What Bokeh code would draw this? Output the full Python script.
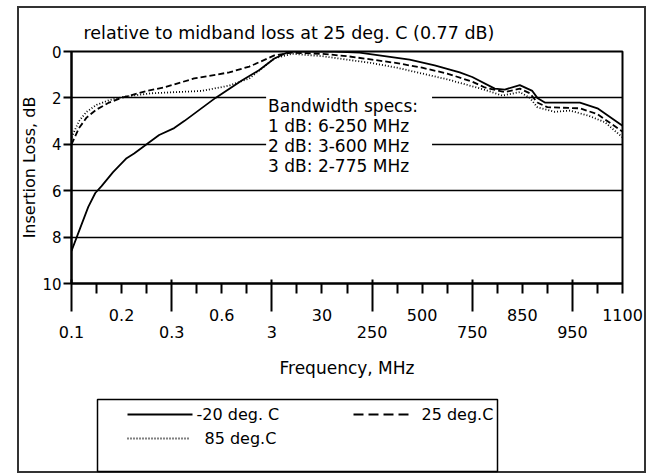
from bokeh.plotting import figure
from bokeh.layouts import column
from bokeh.models import Range1d, FixedTicker, Label, LinearAxis
from bokeh.core.properties import value
from bokeh.embed import file_html
from bokeh.resources import INLINE

# ---------------- data ----------------
title_text = "relative to midband loss at 25 deg. C (0.77 dB)"
x_label = "Frequency, MHz"
y_label = "Insertion Loss, dB"
spec_text = "Bandwidth specs:\n1 dB: 6-250 MHz\n2 dB: 3-600 MHz\n3 dB: 2-775 MHz"

# tick positions along the (non-uniform) frequency axis and their labels
x_tick_pos = [0, 2, 4, 6, 8, 10, 12, 14, 16, 18, 20, 22]
x_tick_labels = ["0.1", "0.2", "0.3", "0.6", "3", "30", "250", "500", "750", "850", "950", "1100"]
y_ticks = [0, 2, 4, 6, 8, 10]

series_names = ["-20 deg. C", "25 deg.C", "85 deg.C"]

# -20 deg C (axis position, loss dB)
pos_m20 = [0, 0.35, 0.67, 0.95, 1.2, 1.66, 2.2, 2.5, 3.0, 3.5, 4.1, 4.5, 5.75, 6.8, 7.5,
           8.1, 8.7, 9.5, 10.5, 11.5, 12.5, 13.5, 14.5, 15.5, 16.0, 16.9, 17.3, 17.9,
           18.4, 18.6, 18.9, 19.5, 20.3, 21.0, 22]
loss_m20 = [8.6, 7.6, 6.7, 6.1, 5.8, 5.2, 4.6, 4.4, 4.0, 3.6, 3.3, 3.0, 2.0, 1.25, 0.8,
            0.3, 0.0, 0.0, 0.0, 0.05, 0.2, 0.35, 0.6, 0.9, 1.1, 1.6, 1.64, 1.45,
            1.7, 2.0, 2.2, 2.2, 2.2, 2.45, 3.2]

# 25 deg C
pos_25 = [0, 0.3, 0.6, 1.0, 1.5, 2.0, 2.5, 3.0, 3.7, 4.9, 6.3, 7.1, 8.1, 8.8, 10, 11,
          12, 13, 14, 15, 16, 16.5, 17.3, 17.9, 18.3, 18.6, 19.0, 20.3, 21.0, 22]
loss_25 = [4.0, 3.3, 2.85, 2.5, 2.2, 2.0, 1.85, 1.7, 1.55, 1.16, 0.9, 0.65, 0.17, 0.05,
           0.1, 0.2, 0.35, 0.5, 0.7, 0.95, 1.3, 1.55, 1.75, 1.6, 1.8, 2.2, 2.4, 2.45, 2.7, 3.45]

# 85 deg C
pos_85 = [0, 0.3, 0.6, 1.0, 1.5, 2.1, 3.2, 4.2, 5.2, 6.3, 7.1, 8.1, 8.8, 10, 11, 12, 13,
          14, 15, 16, 16.5, 17.2, 17.9, 18.3, 18.6, 19.3, 19.9, 20.6, 21.3, 22]
loss_85 = [3.7, 3.0, 2.6, 2.3, 2.1, 1.95, 1.8, 1.75, 1.7, 1.47, 1.16, 0.3, 0.1, 0.2, 0.35,
           0.5, 0.7, 0.95, 1.2, 1.5, 1.65, 1.9, 1.75, 2.0, 2.4, 2.6, 2.55, 2.75, 3.05, 3.7]

# ---------------- main chart ----------------
FONT = "DejaVu Sans"
styles = [dict(line_color="black", line_width=1.8),
          dict(line_color="black", line_width=1.8, line_dash="6 3"),
          dict(line_color="black", line_width=1.8, line_dash="1 2")]
sample_dash = ["solid", "10 5", "1 2"]
BORDER = "#333333"

p = figure(width=629, height=384, x_range=Range1d(0, 22), y_range=Range1d(10, 0),
           output_backend="svg", toolbar_location=None,
           min_border_left=51, min_border_right=24, min_border_top=45, min_border_bottom=107)
p.background_fill_color = "white"
p.border_fill_alpha = 0
p.outline_line_color = "black"
p.outline_line_width = 2
p.styles = {"box-shadow": f"inset 2px 2px 0 {BORDER}, inset -2px 0 0 {BORDER}"}

p.title.text = title_text
p.title.align = "left"
p.title.offset = 12
p.title.standoff = 18
p.title.text_font = FONT
p.title.text_font_size = "17.5px"
p.title.text_font_style = "normal"
p.title.text_color = "black"

long_pos = x_tick_pos[0::2]
long_lab = x_tick_labels[0::2]
up_pos = x_tick_pos[1::2]
up_lab = x_tick_labels[1::2]
odd_pos = [i for i in range(0, 23) if i not in x_tick_pos]

# x axis A (next to frame): short ticks, upper row of labels
xa = p.xaxis[0]
xa.ticker = FixedTicker(ticks=up_pos, minor_ticks=odd_pos)
xa.major_label_overrides = {k: v for k, v in zip(up_pos, up_lab)}
xa.major_tick_out = 10
xa.major_tick_in = 0
xa.minor_tick_out = 10
xa.minor_tick_in = 0
xa.axis_line_width = 2
xa.major_tick_line_width = 2
xa.minor_tick_line_width = 2
xa.major_label_standoff = 15
xa.major_label_text_font = FONT
xa.major_label_text_font_size = "16px"
xa.major_label_text_color = "black"

# x axis B (below A): long ticks reaching up to the frame, lower row of labels
xb = LinearAxis(ticker=FixedTicker(ticks=long_pos, minor_ticks=[]))
xb.major_label_overrides = {k: v for k, v in zip(long_pos, long_lab)}
xb.axis_line_color = None
xb.major_tick_in = 44
xb.major_tick_out = -12
xb.minor_tick_in = 0
xb.minor_tick_out = 0
xb.major_tick_line_width = 2
xb.major_label_standoff = 2
xb.major_label_text_font = FONT
xb.major_label_text_font_size = "16px"
xb.major_label_text_color = "black"
xb.axis_label = x_label
xb.axis_label_text_font = FONT
xb.axis_label_text_font_size = "17px"
xb.axis_label_text_font_style = "normal"
xb.axis_label_text_color = "black"
xb.axis_label_standoff = 17
p.add_layout(xb, "below")

ya = p.yaxis[0]
ya.ticker = FixedTicker(ticks=y_ticks, minor_ticks=[])
ya.major_tick_out = 8
ya.major_tick_in = 0
ya.axis_line_width = 2
ya.major_tick_line_width = 2
ya.major_label_standoff = 2
ya.major_label_text_font = FONT
ya.major_label_text_font_size = "15px"
ya.major_label_text_color = "black"
ya.axis_label = y_label
ya.axis_label_text_font = FONT
ya.axis_label_text_font_size = "16px"
ya.axis_label_text_font_style = "normal"
ya.axis_label_text_color = "black"
ya.axis_label_standoff = 0

p.xgrid.visible = False
p.ygrid.ticker = FixedTicker(ticks=y_ticks[1:-1])
p.ygrid.grid_line_color = "black"
p.ygrid.grid_line_width = 1.5
p.ygrid.grid_line_alpha = 1

p.line(pos_m20, loss_m20, **styles[0])
p.line(pos_25, loss_25, **styles[1])
p.line(pos_85, loss_85, **styles[2])

p.add_layout(Label(x=7.77, y=1.75, text=spec_text, text_align="left", text_baseline="top",
                   text_font=FONT, text_font_size="17px", text_color="black",
                   text_line_height=1.0, background_fill_color="white",
                   padding=(2, 14, 4, 6)))

# ---------------- legend strip (pixel coordinates) ----------------
LW, LH = 629, 83
pl = figure(width=LW, height=LH, x_range=Range1d(0, LW), y_range=Range1d(0, LH),
            output_backend="svg", toolbar_location=None, title=None,
            x_axis_location=None, y_axis_location=None,
            min_border_left=0, min_border_right=0, min_border_top=0, min_border_bottom=0)
pl.grid.visible = False
pl.outline_line_color = None
pl.background_fill_alpha = 0
pl.border_fill_alpha = 0
pl.styles = {"box-shadow": f"inset 2px -2px 0 {BORDER}, inset -2px 0 0 {BORDER}"}

for f in (p, pl):
    if "frame_align" in f.properties():
        f.frame_align = False

# legend box and entries (layout positions, px)
box_l, box_r, box_b, box_t = 80, 480, 2, 74
sample_x0 = [110, 336, 110]
sample_x1 = [175, 396, 173]
entry_y = [59, 59, 35]
text_x = [179, 404, 187]

pl.quad(left=[box_l], right=[box_r], bottom=[box_b], top=[box_t],
        fill_color="white", line_color="black", line_width=1.5)
for i in range(3):
    pl.segment(x0=[sample_x0[i]], y0=[entry_y[i]], x1=[sample_x1[i]], y1=[entry_y[i]],
               line_color="black", line_width=2.2, line_dash=sample_dash[i])
pl.text(x=text_x, y=entry_y, text=series_names, text_baseline="middle", text_align="left",
        text_font=value(FONT), text_font_size="16px", text_color="black")

root = column(p, pl, spacing=0, margin=(6, 0, 0, 17))

open("out.html", "w").write(file_html(root, INLINE))
